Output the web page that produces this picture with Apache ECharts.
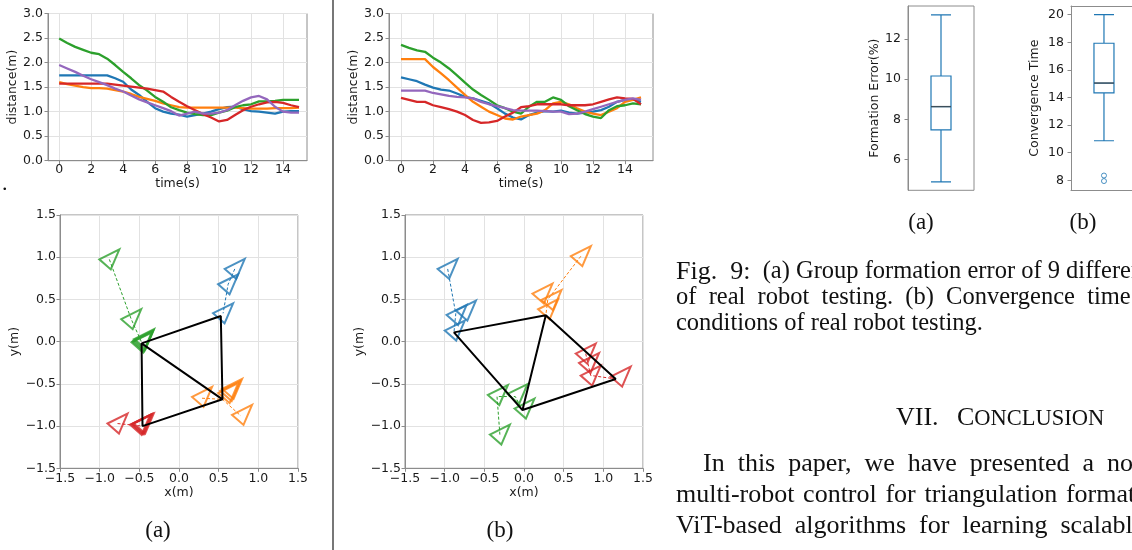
<!DOCTYPE html>
<html>
<head>
<meta charset="utf-8">
<title>Fig. 9</title>
<script src="https://cdn.jsdelivr.net/npm/echarts@6.0.0/dist/echarts.min.js"></script>
<style>
  html, body { margin: 0; padding: 0; background: #fff; }
  #chart { width: 1132px; height: 550px; }
</style>
</head>
<body>
<div id="chart"></div>
<script>
// distance over time, one value every 0.5 s
const timeSteps = [0, 0.5, 1, 1.5, 2, 2.5, 3, 3.5, 4, 4.5, 5, 5.5, 6, 6.5, 7, 7.5, 8, 8.5, 9, 9.5, 10, 10.5, 11, 11.5, 12, 12.5, 13, 13.5, 14, 14.5, 15];
const timeTicks = [0, 2, 4, 6, 8, 10, 12, 14];

const distBlueA = [1.74, 1.74, 1.74, 1.74, 1.74, 1.74, 1.74, 1.68, 1.61, 1.45, 1.34, 1.20, 1.07, 1.00, 0.96, 0.94, 0.90, 0.93, 0.96, 1.00, 1.05, 1.09, 1.10, 1.05, 1.01, 1.00, 0.98, 0.96, 1.00, 1.01, 1.01];
const distOrangeA = [1.60, 1.56, 1.53, 1.50, 1.48, 1.48, 1.47, 1.44, 1.41, 1.36, 1.30, 1.26, 1.22, 1.17, 1.13, 1.09, 1.08, 1.08, 1.08, 1.08, 1.08, 1.08, 1.08, 1.07, 1.06, 1.06, 1.06, 1.07, 1.07, 1.07, 1.08];
const distGreenA = [2.49, 2.40, 2.32, 2.26, 2.20, 2.17, 2.08, 1.95, 1.81, 1.68, 1.54, 1.43, 1.30, 1.20, 1.09, 1.03, 0.98, 0.95, 0.93, 0.93, 0.98, 1.02, 1.09, 1.13, 1.15, 1.21, 1.21, 1.22, 1.24, 1.24, 1.24];
const distRedA = [1.57, 1.57, 1.57, 1.57, 1.57, 1.57, 1.57, 1.55, 1.53, 1.51, 1.49, 1.47, 1.44, 1.41, 1.30, 1.20, 1.11, 1.03, 0.95, 0.88, 0.80, 0.83, 0.93, 1.03, 1.10, 1.15, 1.19, 1.20, 1.18, 1.13, 1.09];
const distPurpleA = [1.95, 1.88, 1.81, 1.73, 1.66, 1.60, 1.54, 1.47, 1.41, 1.33, 1.25, 1.19, 1.13, 1.07, 1.01, 0.92, 0.96, 1.00, 0.96, 0.96, 0.98, 1.03, 1.13, 1.22, 1.29, 1.32, 1.25, 1.10, 1.00, 0.98, 0.98];

const distBlueB = [1.70, 1.66, 1.62, 1.55, 1.49, 1.45, 1.43, 1.37, 1.30, 1.27, 1.22, 1.17, 1.07, 0.96, 0.88, 0.84, 0.93, 0.98, 1.01, 1.00, 1.02, 0.98, 0.96, 0.98, 1.00, 1.03, 1.10, 1.20, 1.24, 1.25, 1.20];
const distOrangeB = [2.07, 2.07, 2.07, 2.07, 1.91, 1.78, 1.64, 1.49, 1.34, 1.20, 1.10, 1.00, 0.93, 0.86, 0.84, 0.90, 0.93, 0.96, 1.03, 1.17, 1.20, 1.15, 1.07, 1.00, 0.96, 0.93, 1.00, 1.07, 1.20, 1.24, 1.29];
const distGreenB = [2.36, 2.30, 2.25, 2.22, 2.10, 2.00, 1.88, 1.74, 1.59, 1.45, 1.34, 1.24, 1.13, 1.07, 1.00, 0.96, 1.10, 1.20, 1.20, 1.29, 1.24, 1.11, 1.03, 0.95, 0.90, 0.87, 1.03, 1.11, 1.13, 1.17, 1.15];
const distRedB = [1.28, 1.24, 1.20, 1.20, 1.13, 1.09, 1.05, 1.00, 0.93, 0.83, 0.77, 0.78, 0.81, 0.90, 0.98, 1.09, 1.11, 1.15, 1.15, 1.15, 1.15, 1.13, 1.13, 1.13, 1.15, 1.20, 1.25, 1.29, 1.27, 1.26, 1.15];
const distPurpleB = [1.43, 1.43, 1.43, 1.43, 1.38, 1.35, 1.32, 1.30, 1.29, 1.27, 1.20, 1.15, 1.11, 1.07, 1.03, 1.02, 1.02, 1.02, 1.01, 1.00, 1.00, 0.95, 0.96, 1.00, 1.05, 1.10, 1.15, 1.20, 1.24, 1.27, 1.24];

// robot poses (x, y) in metres, panel (a)
const robotsGreenA = [[-0.878, 0.974], [-0.602, 0.266], [-0.44, 0.03], [-0.45, 0.015], [-0.46, 0.0], [-0.47, -0.01]];
const pathGreenA = [[-0.878, 0.974], [-0.602, 0.266], [-0.47, -0.01]];
const robotsBlueA = [[0.703, 0.861], [0.619, 0.679], [0.556, 0.336]];
const pathBlueA = [[0.703, 0.861], [0.619, 0.679], [0.556, 0.336]];
const robotsOrangeA = [[0.291, -0.655], [0.62, -0.61], [0.646, -0.585], [0.67, -0.56], [0.795, -0.868]];
const pathOrangeA = [[0.29, -0.67], [0.548, -0.683], [0.78, -0.88]];
const robotsRedA = [[-0.775, -0.970], [-0.49, -0.985], [-0.475, -0.98], [-0.46, -0.975], [-0.445, -0.97]];
const pathRedA = [[-0.775, -0.97], [-0.46, -1.0]];
const formationA = [[-0.472, -0.02], [0.527, 0.304], [0.548, -0.683], [-0.46, -1.0], [-0.472, -0.02], [0.548, -0.683]];

// robot poses, panel (b)
const robotsBlueB = [[-0.962, 0.861], [-0.849, 0.316], [-0.732, 0.367], [-0.873, 0.131]];
const pathBlueB = [[-0.962, 0.861], [-0.86, 0.33], [-0.883, 0.11]];
const robotsOrangeB = [[0.717, 1.012], [0.233, 0.568], [0.346, 0.493], [0.304, 0.383]];
const pathOrangeB = [[0.717, 1.012], [0.30, 0.50], [0.275, 0.312]];
const robotsGreenB = [[-0.329, -0.632], [-0.081, -0.62], [0.006, -0.793], [-0.304, -1.101]];
const pathGreenB = [[-0.304, -1.101], [-0.34, -0.65], [-0.11, -0.65], [-0.019, -0.81]];
const robotsRedB = [[0.778, -0.142], [0.82, -0.253], [0.841, -0.403], [1.219, -0.415]];
const pathRedB = [[0.778, -0.142], [0.84, -0.40], [1.156, -0.442]];
const formationB = [[0.275, 0.312], [-0.883, 0.11], [-0.019, -0.81], [1.156, -0.442], [0.275, 0.312], [-0.019, -0.81]];

// box plots: [min, Q1, median, Q3, max]
const formationError = [4.9, 7.48, 8.64, 10.16, 13.2];
const convergenceTime = [10.87, 14.33, 15.05, 17.93, 20.0];
const convergenceOutliers = [8.35, 7.95];
const errorTicks = [6, 8, 10, 12];
const timeBoxTicks = [8, 10, 12, 14, 16, 18, 20];

const colors = { blue: "#1f77b4", orange: "#ff7f0e", green: "#2ca02c", red: "#d62728", purple: "#9467bd" };
const spine = "#8c8c8c";
const gridLine = "#e2e2e2";
const tickFont = { color: "#1a1a1a", fontFamily: "DejaVu Sans", fontSize: 12.5 };
const serif = "Liberation Serif";
const robotSymbol = "path://M0,9.5L18.7,0L10.7,19.1Z";

const chart = echarts.init(document.getElementById("chart"), null, { renderer: "canvas" });

function fmt(v) {
  return (v < 0 ? "\u2212" : "") + Math.abs(v).toFixed(1);
}

function frame(left, top, width, height) {
  return { left, top, width, height, show: true, borderColor: spine, borderWidth: 1, containLabel: false };
}

function tick() {
  return { show: true, inside: false, length: 3.5, lineStyle: { color: spine } };
}

function valueAxis(gridIndex, min, max, opts) {
  const axis = {
    type: "value",
    gridIndex,
    min,
    max,
    axisLine: { show: true, onZero: false, lineStyle: { color: spine } },
    axisTick: tick(),
    axisLabel: Object.assign({ margin: 4 }, tickFont),
    splitLine: { show: true, lineStyle: { color: gridLine, width: 1 } },
    nameLocation: "middle",
    nameTextStyle: Object.assign({}, tickFont)
  };
  return echarts.util.merge(axis, opts, true);
}

function timeLine(name, arr, color, xIndex) {
  return {
    name,
    type: "line",
    xAxisIndex: xIndex,
    yAxisIndex: xIndex,
    showSymbol: false,
    data: timeSteps.map((t, i) => [t, arr[i]]),
    lineStyle: { color, width: 2.3 },
    itemStyle: { color }
  };
}

function robots(data, color, idx) {
  return {
    type: "scatter",
    xAxisIndex: idx,
    yAxisIndex: idx,
    symbol: robotSymbol,
    symbolSize: [20, 20],
    data,
    itemStyle: { color: "rgba(0,0,0,0)", borderColor: color, borderWidth: 2 },
    z: 3
  };
}

function trail(data, color, idx) {
  return {
    type: "line",
    xAxisIndex: idx,
    yAxisIndex: idx,
    showSymbol: false,
    data,
    lineStyle: { color, width: 1, type: [3, 2] },
    z: 2
  };
}

function formation(data, idx) {
  return {
    type: "line",
    xAxisIndex: idx,
    yAxisIndex: idx,
    showSymbol: false,
    data,
    lineStyle: { color: "#000", width: 2 },
    z: 4
  };
}

const hiddenAxis = { axisTick: { show: false }, axisLabel: { show: false }, splitLine: { show: false } };

const xAxes = [
  valueAxis(0, -0.7, 15.5, { name: "time(s)", nameGap: 15, axisLabel: { margin: 3, customValues: timeTicks }, axisTick: { customValues: timeTicks } }),
  valueAxis(1, -0.75, 15.75, { name: "time(s)", nameGap: 15, axisLabel: { margin: 3, customValues: timeTicks }, axisTick: { customValues: timeTicks } }),
  valueAxis(2, -1.5, 1.5, { interval: 0.5, name: "x(m)", nameGap: 18, axisLabel: { formatter: fmt } }),
  valueAxis(3, -1.5, 1.5, { interval: 0.5, name: "x(m)", nameGap: 18, axisLabel: { formatter: fmt } }),
  { type: "category", gridIndex: 4, data: [""], axisLine: { show: false }, axisTick: { show: false }, axisLabel: { show: false } },
  // right panel runs past the page edge, so its box sits left of the visible middle
  valueAxis(5, -1, 0.85, hiddenAxis),
  valueAxis(5, -1, 0.85, Object.assign({ position: "top" }, hiddenAxis))
];

const yAxes = [
  valueAxis(0, 0, 3, { interval: 0.5, name: "distance(m)", nameGap: 25, axisLabel: { margin: 5, formatter: fmt } }),
  valueAxis(1, 0, 3, { interval: 0.5, name: "distance(m)", nameGap: 26, axisLabel: { margin: 5, formatter: fmt } }),
  valueAxis(2, -1.5, 1.5, { interval: 0.5, name: "y(m)", nameGap: 34, axisLabel: { formatter: fmt } }),
  valueAxis(3, -1.5, 1.5, { interval: 0.5, name: "y(m)", nameGap: 36, axisLabel: { formatter: fmt } }),
  valueAxis(4, 4.48, 13.64, { name: "Formation Error(%)", nameGap: 27, splitLine: { show: false }, axisLabel: { margin: 7, customValues: errorTicks }, axisTick: { customValues: errorTicks } }),
  valueAxis(5, 7.28, 20.63, { name: "Convergence Time", nameGap: 30, splitLine: { show: false }, axisLabel: { margin: 7, customValues: timeBoxTicks }, axisTick: { customValues: timeBoxTicks } })
];

const series = [
  timeLine("r1", distBlueA, colors.blue, 0),
  timeLine("r2", distOrangeA, colors.orange, 0),
  timeLine("r3", distGreenA, colors.green, 0),
  timeLine("r4", distRedA, colors.red, 0),
  timeLine("r5", distPurpleA, colors.purple, 0),
  timeLine("r1", distBlueB, colors.blue, 1),
  timeLine("r2", distOrangeB, colors.orange, 1),
  timeLine("r3", distGreenB, colors.green, 1),
  timeLine("r4", distRedB, colors.red, 1),
  timeLine("r5", distPurpleB, colors.purple, 1),

  trail(pathBlueA, colors.blue, 2),
  trail(pathOrangeA, colors.orange, 2),
  trail(pathGreenA, colors.green, 2),
  trail(pathRedA, colors.red, 2),
  robots(robotsBlueA, colors.blue, 2),
  robots(robotsOrangeA, colors.orange, 2),
  robots(robotsGreenA, colors.green, 2),
  robots(robotsRedA, colors.red, 2),
  formation(formationA, 2),

  trail(pathBlueB, colors.blue, 3),
  trail(pathOrangeB, colors.orange, 3),
  trail(pathGreenB, colors.green, 3),
  trail(pathRedB, colors.red, 3),
  robots(robotsBlueB, colors.blue, 3),
  robots(robotsOrangeB, colors.orange, 3),
  robots(robotsGreenB, colors.green, 3),
  robots(robotsRedB, colors.red, 3),
  formation(formationB, 3),

  {
    type: "boxplot",
    xAxisIndex: 4,
    yAxisIndex: 4,
    boxWidth: [20, 20],
    data: [formationError],
    itemStyle: { color: "#fff", borderColor: colors.blue, borderWidth: 1.2 }
  },
  {
    type: "scatter",
    xAxisIndex: 4,
    yAxisIndex: 4,
    symbol: "rect",
    symbolSize: [20, 1.4],
    data: [[0, formationError[2]]],
    itemStyle: { color: "#444" },
    z: 3
  },
  {
    type: "boxplot",
    xAxisIndex: 5,
    yAxisIndex: 5,
    layout: "horizontal",
    boxWidth: [20, 20],
    data: [[0].concat(convergenceTime)],
    itemStyle: { color: "#fff", borderColor: colors.blue, borderWidth: 1.2 }
  },
  {
    type: "scatter",
    xAxisIndex: 5,
    yAxisIndex: 5,
    symbol: "rect",
    symbolSize: [20, 1.4],
    data: [[0, convergenceTime[2]]],
    itemStyle: { color: "#444" },
    z: 3
  },
  {
    type: "scatter",
    xAxisIndex: 5,
    yAxisIndex: 5,
    symbol: "circle",
    symbolSize: 5,
    data: convergenceOutliers.map((v) => [0, v]),
    itemStyle: { color: "rgba(0,0,0,0)", borderColor: colors.blue, borderWidth: 1 },
    z: 3
  }
];

function text(x, y, str, size, extra) {
  return {
    type: "text",
    x,
    y,
    silent: true,
    style: Object.assign({
      text: str,
      fill: "#111",
      fontFamily: serif,
      fontSize: size,
      verticalAlign: "middle"
    }, extra || {})
  };
}

const gap = " \u200A";

const graphic = [
  { type: "line", silent: true, shape: { x1: 333, y1: 0, x2: 333, y2: 550 }, style: { stroke: "#4a4a4a", lineWidth: 1.5 } },
  text(2, 184, ".", 22),
  text(158, 531, "(a)", 23, { align: "center" }),
  text(500, 531, "(b)", 23, { align: "center" }),
  text(921, 223, "(a)", 23, { align: "center" }),
  text(1083, 223, "(b)", 23, { align: "center" }),
  text(676, 272, "{f|Fig.  9:}  (a) Group formation error of 9 different conditions", 24.5, {
    rich: { f: { fontFamily: serif, fontSize: 26 } }
  }),
  text(676, 298, "of  real  robot  testing.  (b)  Convergence  time  of  9  different", 24.5),
  text(676, 324, "conditions of real robot testing.", 24.5),
  text(896, 418, "VII.", 26),
  text(957, 418, "{a|C}{b|ONCLUSION}", 26, {
    rich: {
      a: { fontFamily: serif, fontSize: 26, verticalAlign: "bottom" },
      b: { fontFamily: serif, fontSize: 22.5, verticalAlign: "bottom" }
    }
  }),
  text(703, 464, "In  this  paper,  we  have  presented  a  novel", 26),
  text(676, 495, ["multi-robot", "control", "for", "triangulation", "formation"].join(gap), 26),
  text(676, 526, "ViT-based  algorithms  for  learning  scalable", 26)
];

chart.setOption({
  animation: false,
  backgroundColor: "#fff",
  grid: [
    frame(48, 13.5, 259, 147.2),
    frame(389, 13.5, 264, 147.2),
    frame(60, 215, 238, 253.3),
    frame(405, 215, 238, 253.3),
    frame(908, 6, 66, 184.3),
    { left: 1071, top: 6, width: 61, height: 184.3, show: false, containLabel: false }
  ],
  xAxis: xAxes,
  yAxis: yAxes,
  series,
  graphic
});
</script>
</body>
</html>
